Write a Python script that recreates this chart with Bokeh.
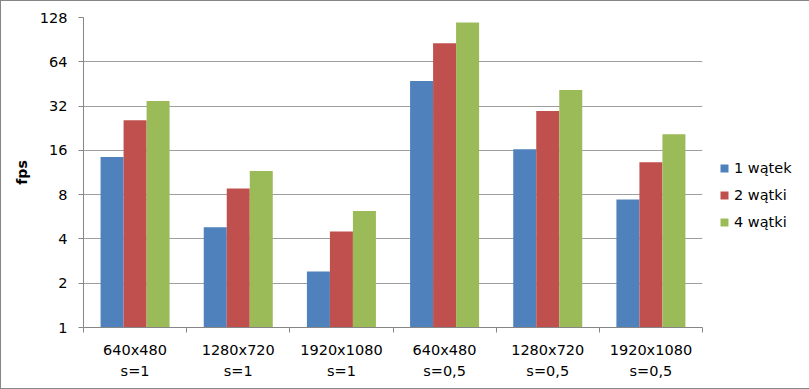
from bokeh.plotting import figure
from bokeh.models import Range1d, FixedTicker, Legend, LegendItem, NumeralTickFormatter
from bokeh.embed import file_html
from bokeh.resources import INLINE

categories = ["640x480\ns=1", "1280x720\ns=1", "1920x1080\ns=1",
              "640x480\ns=0,5", "1280x720\ns=0,5", "1920x1080\ns=0,5"]
series_names = ["1 wątek", "2 wątki", "4 wątki"]
fps_1 = [14.4, 4.8, 2.4, 47.3, 16.3, 7.4]
fps_2 = [25.6, 8.8, 4.5, 85.7, 29.6, 13.3]
fps_4 = [34.6, 11.6, 6.2, 118.4, 41.1, 20.6]
y_ticks = [1, 2, 4, 8, 16, 32, 64, 128]
colors = ["#4F81BD", "#C0504D", "#9BBB59"]

FONT = "DejaVu Sans"
AXIS = "#868686"
GRID = "#9e9e9e"

centers = [i + 0.5 for i in range(len(categories))]
bar_w = 0.223
offsets = [-bar_w, 0.0, bar_w]

p = figure(frame_width=619, frame_height=310,
           x_range=Range1d(0, len(categories)), y_range=Range1d(1, 128),
           y_axis_type="log", output_backend="svg", toolbar_location=None,
           min_border_left=82, min_border_right=106, min_border_top=16,
           min_border_bottom=61,
           styles={"border": "1px solid #868686"})
p.outline_line_color = None
p.background_fill_color = "white"
p.border_fill_color = "white"

renderers = []
for vals, off, col in zip([fps_1, fps_2, fps_4], offsets, colors):
    r = p.vbar(x=[c + off for c in centers], top=vals, bottom=1, width=bar_w,
               fill_color=col, line_color=None)
    renderers.append(r)

# x axis
p.xaxis.ticker = FixedTicker(ticks=centers, minor_ticks=list(range(len(categories) + 1)))
p.xaxis.major_label_overrides = {c: lab for c, lab in zip(centers, categories)}
p.xaxis.major_tick_out = 0
p.xaxis.major_tick_in = 0
p.xaxis.minor_tick_out = 5
p.xaxis.minor_tick_in = 0
p.xaxis.minor_tick_line_color = AXIS
p.xaxis.axis_line_color = AXIS
p.xaxis.major_label_text_font = FONT
p.xaxis.major_label_text_font_size = "14.5px"
p.xaxis.major_label_text_color = "black"
p.xaxis.major_label_text_line_height = 1.33
p.xaxis.major_label_standoff = 9

# y axis
p.yaxis.ticker = FixedTicker(ticks=y_ticks, minor_ticks=[])
p.yaxis.formatter = NumeralTickFormatter(format="0")
p.yaxis.axis_line_color = AXIS
p.yaxis.major_tick_line_color = AXIS
p.yaxis.major_tick_out = 5
p.yaxis.major_tick_in = 0
p.yaxis.minor_tick_line_color = None
p.yaxis.major_label_text_font = FONT
p.yaxis.major_label_text_font_size = "14.5px"
p.yaxis.major_label_text_color = "black"
p.yaxis.major_label_standoff = 11
p.yaxis.axis_label = "fps"
p.yaxis.axis_label_text_font = FONT
p.yaxis.axis_label_text_font_size = "14px"
p.yaxis.axis_label_text_font_style = "bold"
p.yaxis.axis_label_text_color = "black"
p.yaxis.axis_label_standoff = 7

p.xgrid.grid_line_color = None
p.ygrid.ticker = FixedTicker(ticks=y_ticks)
p.ygrid.grid_line_color = GRID
p.ygrid.grid_line_width = 1

items = [LegendItem(label=n, renderers=[r]) for n, r in zip(series_names, renderers)]
legend = Legend(items=items, location=(17, 97), glyph_width=10, glyph_height=10,
                label_text_font=FONT, label_text_font_size="14.5px", label_text_color="black",
                label_standoff=5, spacing=11, padding=0, margin=0, label_height=14,
                border_line_color=None, background_fill_alpha=0)
p.add_layout(legend, "right")

open("out.html", "w").write(file_html(p, INLINE))
